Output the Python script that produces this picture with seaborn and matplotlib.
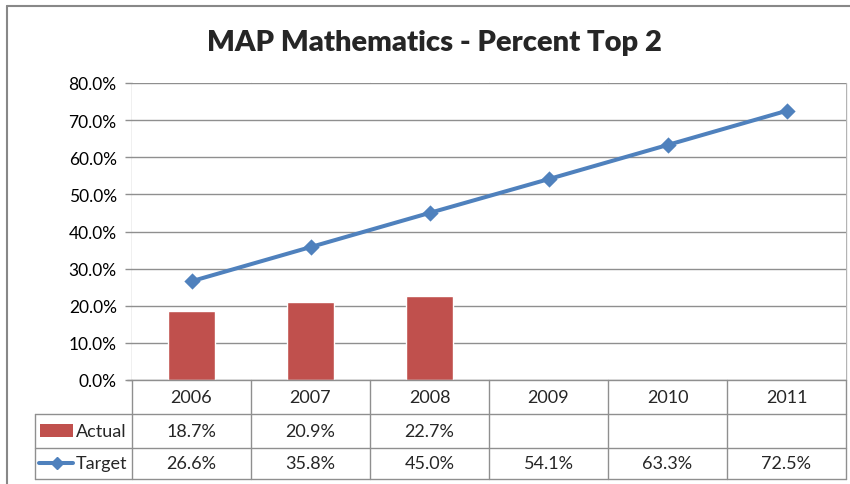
import numpy as np
import pandas as pd
import matplotlib
matplotlib.use("Agg")
import matplotlib.pyplot as plt
from matplotlib.lines import Line2D
from matplotlib.patches import Rectangle
import seaborn as sns

# chart data
years = ["2006", "2007", "2008", "2009", "2010", "2011"]
actual = [0.187, 0.209, 0.227, np.nan, np.nan, np.nan]
target = [0.266, 0.358, 0.450, 0.541, 0.633, 0.725]
yticks = [0.0, 0.1, 0.2, 0.3, 0.4, 0.5, 0.6, 0.7, 0.8]

RED = "#C0504D"
BLUE = "#4F81BD"
HGRID = "#8F8F8F"
VGRID = "#B4B4B4"

sns.set_theme(style="white")
plt.rcParams["font.family"] = ["Lato", "DejaVu Sans"]

W, H = 850, 485
fig = plt.figure(figsize=(W / 100, H / 100), dpi=100)
fig.patch.set_facecolor("white")

# plot area in pixels
left, right, top, bottom = 132, 846, 84, 381
ax = fig.add_axes([left / W, (H - bottom) / H, (right - left) / W, (bottom - top) / H])

df = pd.DataFrame({"year": years, "actual": actual, "target": target})

sns.barplot(data=df.dropna(), x="year", y="actual", order=years, color=RED,
            width=0.4, saturation=1, ax=ax, zorder=2)
sns.pointplot(data=df, x="year", y="target", order=years, color=BLUE,
              markers="D", markersize=6.5, linewidth=2.9, ax=ax)

ax.set_xlim(-0.5, len(years) - 0.5)
ax.set_ylim(0, 0.8)
ax.set_yticks(yticks)
ax.set_yticklabels([f"{v * 100:.1f}%" for v in yticks], fontsize=12.5, color="black")
ax.set_xticks([])
ax.set_xlabel("")
ax.set_ylabel("")
ax.tick_params(axis="y", length=5, color=HGRID, width=1, pad=6, left=True)
for s in ax.spines.values():
    s.set_visible(False)
ax.grid(False)
for v in yticks:
    ax.axhline(v, color=HGRID, lw=1, zorder=0)

# data table below the axis (in figure pixels)
def fx(px):
    return px / W

def fy(py):
    return (H - py) / H

rows = [381, 415, 449, 480]
cell_w = (right - left) / len(years)
legend_left = 35

# vertical grid lines running down through the table
for i in range(len(years) + 1):
    x = left + i * cell_w
    fig.add_artist(Line2D([fx(x), fx(x)], [fy(top), fy(rows[0])], color=VGRID, lw=1, zorder=0))
    fig.add_artist(Line2D([fx(x), fx(x)], [fy(rows[0]), fy(rows[-1])], color=HGRID, lw=1))
fig.add_artist(Line2D([fx(legend_left), fx(legend_left)], [fy(rows[1]), fy(rows[-1])], color=HGRID, lw=1))
# horizontal lines
fig.add_artist(Line2D([fx(left - 5), fx(right)], [fy(rows[0]), fy(rows[0])], color=HGRID, lw=1))
for r in rows[1:]:
    fig.add_artist(Line2D([fx(legend_left), fx(right)], [fy(r), fy(r)], color=HGRID, lw=1))

for i, yr in enumerate(years):
    cx = left + (i + 0.5) * cell_w
    fig.text(fx(cx), fy((rows[0] + rows[1]) / 2), yr, ha="center", va="center", fontsize=13)
    if not np.isnan(actual[i]):
        fig.text(fx(cx), fy((rows[1] + rows[2]) / 2), f"{actual[i] * 100:.1f}%",
                 ha="center", va="center", fontsize=13)
    fig.text(fx(cx), fy((rows[2] + rows[3]) / 2), f"{target[i] * 100:.1f}%",
             ha="center", va="center", fontsize=13)

# legend keys in the table
fig.add_artist(Rectangle((fx(40), fy(438)), fx(73) - fx(40), fy(425) - fy(438),
                         facecolor=RED, edgecolor="none"))
fig.text(fx(76), fy(432), "Actual", ha="left", va="center", fontsize=13)
fig.add_artist(Line2D([fx(39), fx(73)], [fy(464), fy(464)], color=BLUE, lw=2.9))
fig.add_artist(Line2D([fx(57)], [fy(464)], color=BLUE, marker="D", markersize=6.5, lw=0))
fig.text(fx(76), fy(464), "Target", ha="left", va="center", fontsize=13)

# title
fig.text(fx(434), fy(43), "MAP Mathematics - Percent Top 2", ha="center", va="center",
         fontsize=21, fontweight="heavy")

# chart border
fig.add_artist(Line2D([fx(7), fx(7)], [fy(7), 0], color="#888888", lw=1.5))
fig.add_artist(Line2D([fx(7), 1], [fy(7), fy(7)], color="#888888", lw=1.5))

fig.savefig("out.png", dpi=100, facecolor="white")
